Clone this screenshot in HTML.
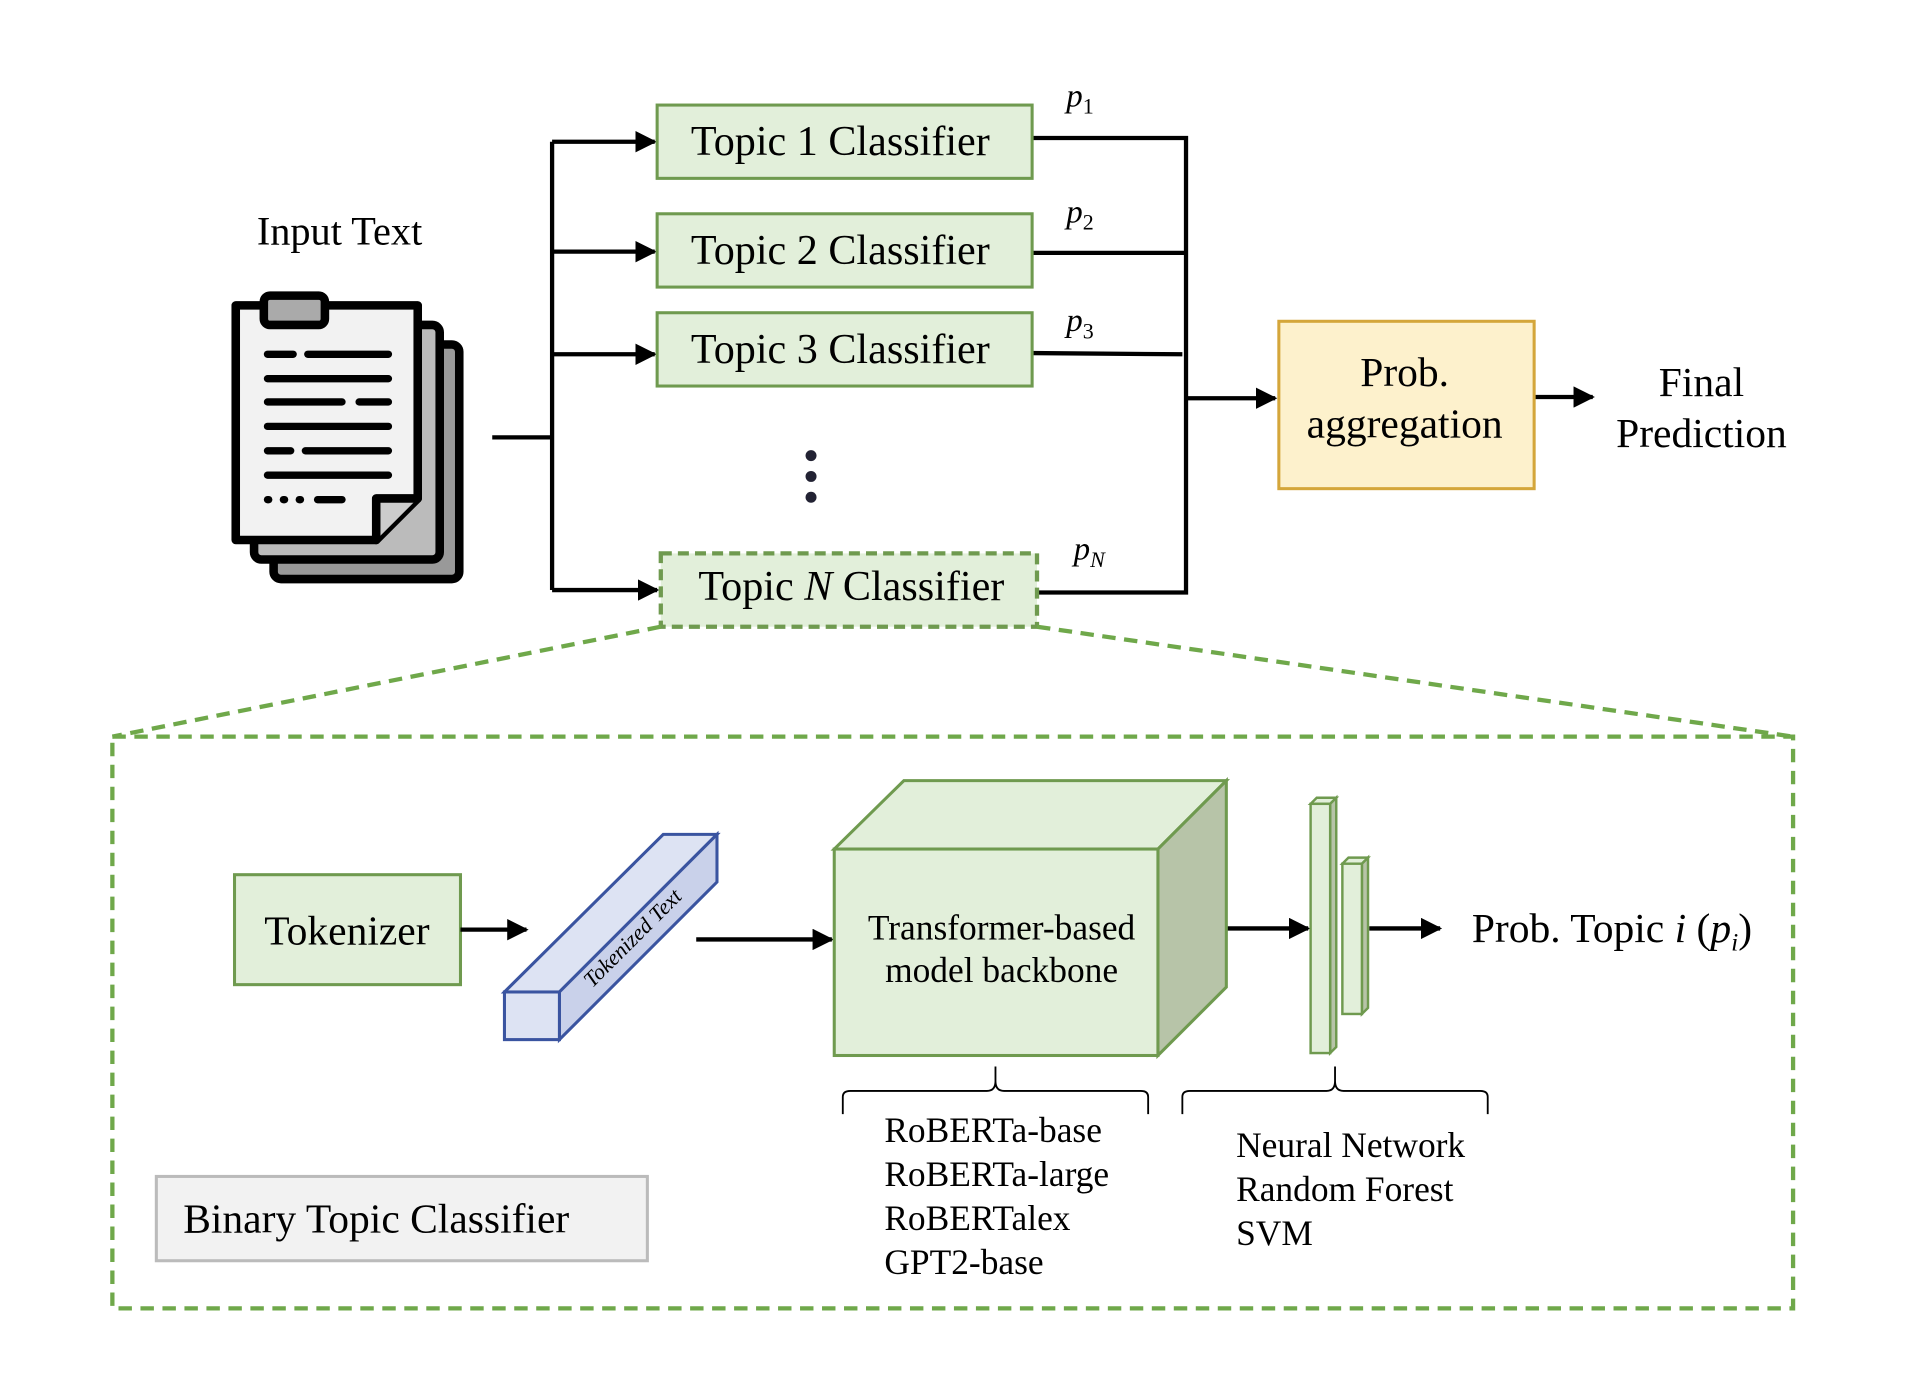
<!DOCTYPE html>
<html><head><meta charset="utf-8"><style>html,body{margin:0;padding:0;background:#fff}svg{display:block}</style></head>
<body>
<svg width="1914" height="1400" viewBox="0 0 1567 1146" preserveAspectRatio="none" xmlns="http://www.w3.org/2000/svg" font-family="'Liberation Serif', serif">
<defs>
<marker id="ah" viewBox="0 0 10 10" refX="9" refY="5" markerWidth="5" markerHeight="5" orient="auto"><path d="M0,0 L10,5 L0,10 z" fill="#000"/></marker>
</defs>
<rect width="1567" height="1146" fill="#fff"/>
<text x="278" y="200" font-size="33" text-anchor="middle">Input Text</text>
<g stroke="#000" stroke-width="7" stroke-linecap="round" stroke-linejoin="round">
<rect x="224" y="282" width="152" height="192" rx="6" fill="#999"/>
<rect x="208" y="266" width="152" height="192" rx="6" fill="#bbb"/>
<path d="M193,250 H342 V408 L308,442 H193 Z" fill="#f2f2f2"/>
<path d="M308,442 V408 H342" fill="#ccc"/>
<rect x="216" y="242" width="50" height="24" rx="5" fill="#aaa"/>
<g stroke-width="6">
<line x1="219" y1="290" x2="240" y2="290"/><line x1="252" y1="290" x2="318" y2="290"/>
<line x1="219" y1="310" x2="318" y2="310"/>
<line x1="219" y1="329" x2="280" y2="329"/><line x1="294" y1="329" x2="318" y2="329"/>
<line x1="219" y1="349" x2="318" y2="349"/>
<line x1="219" y1="369" x2="238" y2="369"/><line x1="250" y1="369" x2="318" y2="369"/>
<line x1="219" y1="389" x2="318" y2="389"/>
<line x1="219" y1="409" x2="220" y2="409"/><line x1="232" y1="409" x2="233" y2="409"/><line x1="245" y1="409" x2="246" y2="409"/><line x1="260" y1="409" x2="280" y2="409"/>
</g>
</g>
<g stroke="#000" stroke-width="3.5" fill="none">
<line x1="403" y1="358" x2="452" y2="358"/>
<line x1="452" y1="116" x2="452" y2="483"/>
<line x1="452" y1="116" x2="536" y2="116" marker-end="url(#ah)"/>
<line x1="452" y1="206" x2="536" y2="206" marker-end="url(#ah)"/>
<line x1="452" y1="290" x2="536" y2="290" marker-end="url(#ah)"/>
<line x1="452" y1="483" x2="538" y2="483" marker-end="url(#ah)"/>
<path d="M845,113 H971 V485 H849"/>
<line x1="845" y1="207" x2="971" y2="207"/>
<line x1="845" y1="289" x2="968" y2="290"/>
<line x1="971" y1="326" x2="1044" y2="326" marker-end="url(#ah)"/>
<line x1="1256" y1="325" x2="1304" y2="325" marker-end="url(#ah)"/>
</g>
<g fill="#e2efda" stroke="#6f9a4f" stroke-width="2.5">
<rect x="538" y="86" width="307" height="60"/>
<rect x="538" y="175" width="307" height="60"/>
<rect x="538" y="256" width="307" height="60"/>
<rect x="541" y="453" width="308" height="60" stroke-dasharray="9,5" stroke-width="3.5"/>
</g>
<g font-size="34.5" text-anchor="middle">
<text x="688" y="127">Topic 1 Classifier</text>
<text x="688" y="216">Topic 2 Classifier</text>
<text x="688" y="297">Topic 3 Classifier</text>
<text x="697" y="491">Topic <tspan font-style="italic">N</tspan> Classifier</text>
</g>
<g font-size="27" font-style="italic">
<text x="873" y="87">p<tspan font-size="18" font-style="normal" dy="6">1</tspan></text>
<text x="873" y="182">p<tspan font-size="18" font-style="normal" dy="6">2</tspan></text>
<text x="873" y="271">p<tspan font-size="18" font-style="normal" dy="6">3</tspan></text>
<text x="879" y="458">p<tspan font-size="18" dy="6">N</tspan></text>
</g>
<g fill="#223"><circle cx="664" cy="373" r="4.5"/><circle cx="664" cy="390" r="4.5"/><circle cx="664" cy="407" r="4.5"/></g>
<rect x="1047" y="263" width="209" height="137" fill="#fdf1cc" stroke="#d4a63a" stroke-width="2.5"/>
<g font-size="34" text-anchor="middle">
<text x="1150" y="316">Prob.</text><text x="1150" y="358">aggregation</text>
<text x="1393" y="324">Final</text><text x="1393" y="366">Prediction</text>
</g>
<g stroke="#6fa84a" stroke-width="3.5" stroke-dasharray="11,7" fill="none">
<line x1="541" y1="513" x2="92" y2="603"/>
<line x1="849" y1="513" x2="1468" y2="603"/>
<rect x="92" y="603" width="1376" height="468"/>
</g>
<rect x="192" y="716" width="185" height="90" fill="#e2efda" stroke="#6f9a4f" stroke-width="2.5"/>
<text x="284" y="773" font-size="34" text-anchor="middle">Tokenizer</text>
<g stroke="#000" stroke-width="3.5">
<line x1="377" y1="761" x2="431" y2="761" marker-end="url(#ah)"/>
<line x1="570" y1="769" x2="681" y2="769" marker-end="url(#ah)"/>
<line x1="1004" y1="760" x2="1071" y2="760" marker-end="url(#ah)"/>
<line x1="1121" y1="760" x2="1179" y2="760" marker-end="url(#ah)"/>
</g>
<g stroke="#3a54a0" stroke-width="2.5" fill="#dde3f3">
<path d="M413,812 L543,683 H587 L458,812 Z"/>
<path d="M458,812 L587,683 V722 L458,851 Z" fill="#c9d1ea"/>
<rect x="413" y="812" width="45" height="39"/>
</g>
<text transform="translate(522,772) rotate(-45)" font-size="18" font-style="italic" text-anchor="middle">Tokenized Text</text>
<g stroke="#6f9a4f" stroke-width="2.5">
<path d="M683,695 L740,639 H1004 L948,695 Z" fill="#e2efda"/>
<path d="M948,695 L1004,639 V808 L948,864 Z" fill="#b7c4a8"/>
<rect x="683" y="695" width="265" height="169" fill="#e2efda"/>
</g>
<g font-size="29" text-anchor="middle">
<text x="820" y="769">Transformer-based</text><text x="820" y="804">model backbone</text>
</g>
<g stroke="#6f9a4f" stroke-width="2" fill="#e2efda">
<path d="M1073,658 L1078,653 H1094 L1089,658 Z"/>
<path d="M1089,658 L1094,653 V857 L1089,862 Z" fill="#b7c4a8"/>
<rect x="1073" y="658" width="16" height="204"/>
<path d="M1099,707 L1104,702 H1120 L1115,707 Z"/>
<path d="M1115,707 L1120,702 V825 L1115,830 Z" fill="#b7c4a8"/>
<rect x="1099" y="707" width="16" height="123"/>
</g>
<text x="1205" y="771" font-size="34">Prob. Topic <tspan font-style="italic">i</tspan> (<tspan font-style="italic">p</tspan><tspan font-size="21" font-style="italic" dy="7">i</tspan><tspan dy="-7">)</tspan></text>
<g stroke="#000" stroke-width="1.5" fill="none">
<path d="M690,912 V898 Q690,893 696,893 H808 Q815,893 815,885 V873 M815,885 Q815,893 822,893 H934 Q940,893 940,898 V912"/>
<path d="M968,912 V898 Q968,893 974,893 H1086 Q1093,893 1093,885 V873 M1093,885 Q1093,893 1100,893 H1212 Q1218,893 1218,898 V912"/>
</g>
<g font-size="29">
<text x="724" y="935">RoBERTa-base</text>
<text x="724" y="971">RoBERTa-large</text>
<text x="724" y="1007">RoBERTalex</text>
<text x="724" y="1043">GPT2-base</text>
<text x="1012" y="947">Neural Network</text>
<text x="1012" y="983">Random Forest</text>
<text x="1012" y="1019">SVM</text>
</g>
<rect x="128" y="963" width="402" height="69" fill="#f2f2f2" stroke="#bbb" stroke-width="2.5"/>
<text x="150" y="1009" font-size="34">Binary Topic Classifier</text>
</svg>
</body></html>
